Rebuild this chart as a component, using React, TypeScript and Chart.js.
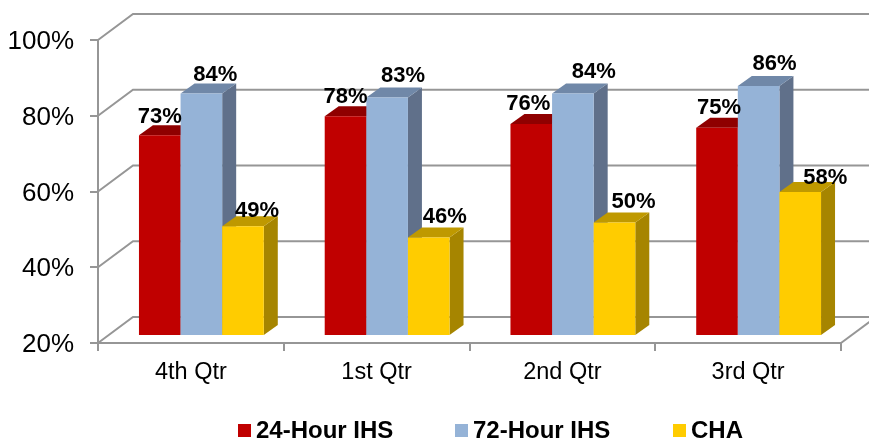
import React, { useEffect, useRef } from "react";
import { Chart, registerables } from "chart.js";

Chart.register(...registerables);

const categories = ["4th Qtr", "1st Qtr", "2nd Qtr", "3rd Qtr"];
const ihs24 = [73, 78, 76, 75];
const ihs72 = [84, 83, 84, 86];
const cha = [49, 46, 50, 58];
const seriesNames = ["24-Hour IHS", "72-Hour IHS", "CHA"];
const frontColors = ["#C00000", "#95B3D7", "#FFCC00"];
const topColors = ["#8F0000", "#7088A8", "#BF9900"];
const sideColors = ["#800000", "#60708A", "#A68500"];

// Hand-placed label nudges of the reference: [dx, dy] from the bar's top centre
const labelNudges = [
  [[0, -12], [0, -13], [-3, -14], [2, -14]],
  [[14, -13], [16, -15], [21, -16], [16, -16]],
  [[14, -9], [16, -15], [19, -14], [25, -8]],
];

const FONT = '"Liberation Sans", Arial, sans-serif';
const GRID = "#969696";
const WALL_DX = 35;
const WALL_DY = -26;
const BAR_DX = 10.5;
const BAR_DY = -7;
const DEPTH_DX = 14;
const DEPTH_DY = -10;

const wallPlugin = {
  id: "wall",
  beforeDatasetsDraw(chart: any) {
    const { ctx, chartArea, scales } = chart;
    ctx.save();
    ctx.strokeStyle = GRID;
    ctx.lineWidth = 2;
    for (const tick of scales.y.ticks) {
      const y = scales.y.getPixelForValue(tick.value);
      ctx.beginPath();
      ctx.moveTo(chartArea.left, y);
      ctx.lineTo(chartArea.left + WALL_DX, y + WALL_DY);
      ctx.lineTo(chart.width, y + WALL_DY);
      ctx.stroke();
    }
    ctx.beginPath();
    ctx.moveTo(chartArea.right, chartArea.bottom);
    ctx.lineTo(chartArea.right + WALL_DX, chartArea.bottom + WALL_DY);
    ctx.stroke();
    ctx.restore();
  },
};

const barsPlugin = {
  id: "bars3d",
  // Draw the series left to right so each bar covers the depth of the one before it
  beforeDatasetsDraw(chart: any) {
    const { ctx } = chart;
    chart.data.datasets.forEach((_: any, i: number) => {
      const meta = chart.getDatasetMeta(i);
      ctx.save();
      ctx.translate(BAR_DX, BAR_DY);
      for (const bar of meta.data) {
        const p = bar.getProps(["x", "y", "base", "width"], true);
        const l = p.x - p.width / 2;
        const r = p.x + p.width / 2;
        ctx.fillStyle = sideColors[i];
        ctx.beginPath();
        ctx.moveTo(r, p.y);
        ctx.lineTo(r + DEPTH_DX, p.y + DEPTH_DY);
        ctx.lineTo(r + DEPTH_DX, p.base + DEPTH_DY);
        ctx.lineTo(r, p.base);
        ctx.closePath();
        ctx.fill();
        ctx.fillStyle = topColors[i];
        ctx.beginPath();
        ctx.moveTo(l, p.y);
        ctx.lineTo(l + DEPTH_DX, p.y + DEPTH_DY);
        ctx.lineTo(r + DEPTH_DX, p.y + DEPTH_DY);
        ctx.lineTo(r, p.y);
        ctx.closePath();
        ctx.fill();
      }
      meta.controller.draw();
      ctx.restore();
    });
  },
  beforeDatasetDraw() {
    return false;
  },
  afterDatasetsDraw(chart: any) {
    const { ctx } = chart;
    ctx.save();
    ctx.font = `bold 22px ${FONT}`;
    ctx.fillStyle = "#000";
    ctx.textAlign = "center";
    ctx.textBaseline = "alphabetic";
    chart.data.datasets.forEach((ds: any, i: number) => {
      const meta = chart.getDatasetMeta(i);
      meta.data.forEach((bar: any, j: number) => {
        const p = bar.getProps(["x", "y"], true);
        const [dx, dy] = labelNudges[i][j];
        ctx.fillText(`${ds.data[j]}%`, p.x + BAR_DX + dx, p.y + BAR_DY + dy);
      });
    });
    ctx.restore();
  },
};

const legendPlugin = {
  id: "bottomLegend",
  afterDraw(chart: any) {
    const { ctx } = chart;
    const startX = [238, 455, 673];
    ctx.save();
    ctx.font = `bold 24px ${FONT}`;
    ctx.textBaseline = "alphabetic";
    ctx.textAlign = "left";
    chart.data.datasets.forEach((ds: any, i: number) => {
      ctx.fillStyle = ds.backgroundColor;
      ctx.fillRect(startX[i], 424, 13, 13);
      ctx.fillStyle = "#000";
      ctx.fillText(ds.label, startX[i] + 18, 438);
    });
    ctx.restore();
  },
};

export default function App() {
  const ref = useRef<HTMLCanvasElement>(null);
  useEffect(() => {
    const chart = new Chart(ref.current as HTMLCanvasElement, {
      type: "bar",
      data: {
        labels: categories,
        datasets: [
          { label: seriesNames[0], data: ihs24, backgroundColor: frontColors[0], base: 20 },
          { label: seriesNames[1], data: ihs72, backgroundColor: frontColors[1], base: 20 },
          { label: seriesNames[2], data: cha, backgroundColor: frontColors[2], base: 20 },
        ],
      },
      options: {
        responsive: false,
        animation: false,
        layout: { padding: { top: 40, right: 28, left: 0, bottom: 0 } },
        categoryPercentage: 0.672,
        barPercentage: 1,
        plugins: { legend: { display: false }, tooltip: { enabled: false } },
        scales: {
          x: {
            afterFit(s: any) { s.height = 96; },
            border: { color: GRID, width: 2 },
            grid: { drawOnChartArea: false, color: GRID, lineWidth: 2, tickLength: 8 },
            ticks: { color: "#000", font: { family: FONT, size: 23.5 }, padding: 7, maxRotation: 0 },
          },
          y: {
            min: 20,
            max: 100,
            afterFit(s: any) { s.width = 98; },
            border: { color: GRID, width: 2 },
            grid: { drawOnChartArea: false, color: GRID, lineWidth: 2, tickLength: 8 },
            ticks: {
              stepSize: 20,
              color: "#000",
              font: { family: FONT, size: 26 },
              padding: 16,
              labelOffset: 2,
              callback: (v: any) => `${v}%`,
            },
          },
        },
      } as any,
      plugins: [wallPlugin, barsPlugin, legendPlugin],
    });
    return () => chart.destroy();
  }, []);
  return (
    <div style={{ position: "absolute", left: 0, top: 0, width: 869, height: 439, background: "#fff" }}>
      <canvas ref={ref} width={869} height={439} style={{ display: "block" }} />
    </div>
  );
}
